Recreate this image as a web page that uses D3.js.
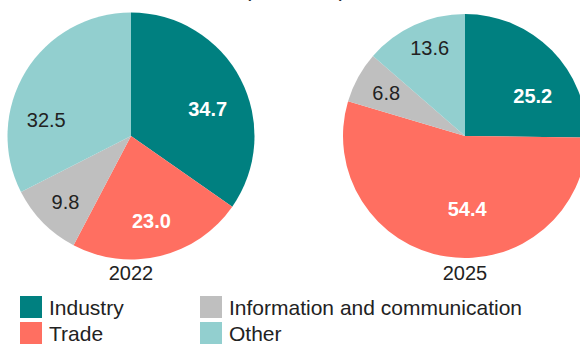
<!DOCTYPE html>
<html>
<head>
<meta charset="utf-8">
<script src="https://cdn.jsdelivr.net/npm/d3@7/dist/d3.min.js"></script>
<style>
  html, body { margin: 0; padding: 0; background: #fff; }
  svg { display: block; font-family: "Liberation Sans", Arial, sans-serif; }
</style>
</head>
<body>
<svg id="chart" width="580" height="345"></svg>
<script>
// Sectors, in drawing order (clockwise from 12 o'clock)
const categories = ["Industry", "Trade", "Information and communication", "Other"];
const years = ["2022", "2025"];
// Shares, per cent
const values2022 = [34.7, 23.0, 9.8, 32.5];
const values2025 = [25.2, 54.4, 6.8, 13.6];
const heading = "(% of total)";

const colors = ["#008080", "#ff6f61", "#bfbfbf", "#92cfcf"];
const labelColors = ["#ffffff", "#ffffff", "#222222", "#222222"];
const labelWeights = ["bold", "bold", "normal", "normal"];

// Pie placement and label fine-tuning (offsets from the arc centroid)
const pies = [
  { year: years[0], values: values2022, cx: 131, cy: 136, r: 123.5,
    nudge: [[0, 13], [0, 1], [-4, 5], [-11, 29]] },
  { year: years[1], values: values2025, cx: 465, cy: 136, r: 122,
    nudge: [[7, 20], [15, -11], [-4, -2], [0, -10]] }
];

const svg = d3.select("#chart");
const textColor = "#222222";

// Heading sits above the top edge; only its lowest strokes show
svg.append("text")
  .attr("x", 295).attr("y", -3.5)
  .attr("text-anchor", "middle")
  .attr("font-size", 21)
  .attr("fill", textColor)
  .text(heading);

const pie = d3.pie().sort(null).value(d => d.v);
const color = d3.scaleOrdinal().domain(categories).range(colors);

pies.forEach(p => {
  const g = svg.append("g").attr("transform", `translate(${p.cx},${p.cy})`);
  const data = pie(p.values.map((v, i) => ({ v, cat: categories[i], i })));
  const arc = d3.arc().innerRadius(0).outerRadius(p.r);
  const labelArc = d3.arc().innerRadius(p.r * 0.7).outerRadius(p.r * 0.7);

  g.selectAll("path.slice").data(data).join("path")
    .attr("class", "slice")
    .attr("d", arc)
    .attr("fill", d => color(d.data.cat));

  g.selectAll("text.val").data(data).join("text")
    .attr("class", "val")
    .attr("transform", d => {
      const [x, y] = labelArc.centroid(d);
      const [dx, dy] = p.nudge[d.data.i];
      return `translate(${x + dx},${y + dy})`;
    })
    .attr("dy", "0.35em")
    .attr("text-anchor", "middle")
    .attr("font-size", 20)
    .attr("font-weight", d => labelWeights[d.data.i])
    .attr("fill", d => labelColors[d.data.i])
    .text(d => d3.format(".1f")(d.data.v));

  svg.append("text")
    .attr("x", p.cx).attr("y", 280)
    .attr("text-anchor", "middle")
    .attr("font-size", 20)
    .attr("fill", textColor)
    .text(p.year);
});

// Legend: two columns, two rows
const legendCols = [20, 200];
const legendRows = [296, 322];
const legend = svg.append("g");
categories.forEach((c, i) => {
  const x = legendCols[Math.floor(i / 2)];
  const y = legendRows[i % 2];
  legend.append("rect")
    .attr("x", x).attr("y", y)
    .attr("width", 22).attr("height", 22)
    .attr("fill", color(c));
  legend.append("text")
    .attr("x", x + 29).attr("y", y + 18.5)
    .attr("font-size", 21)
    .attr("fill", textColor)
    .text(c);
});
</script>
</body>
</html>
